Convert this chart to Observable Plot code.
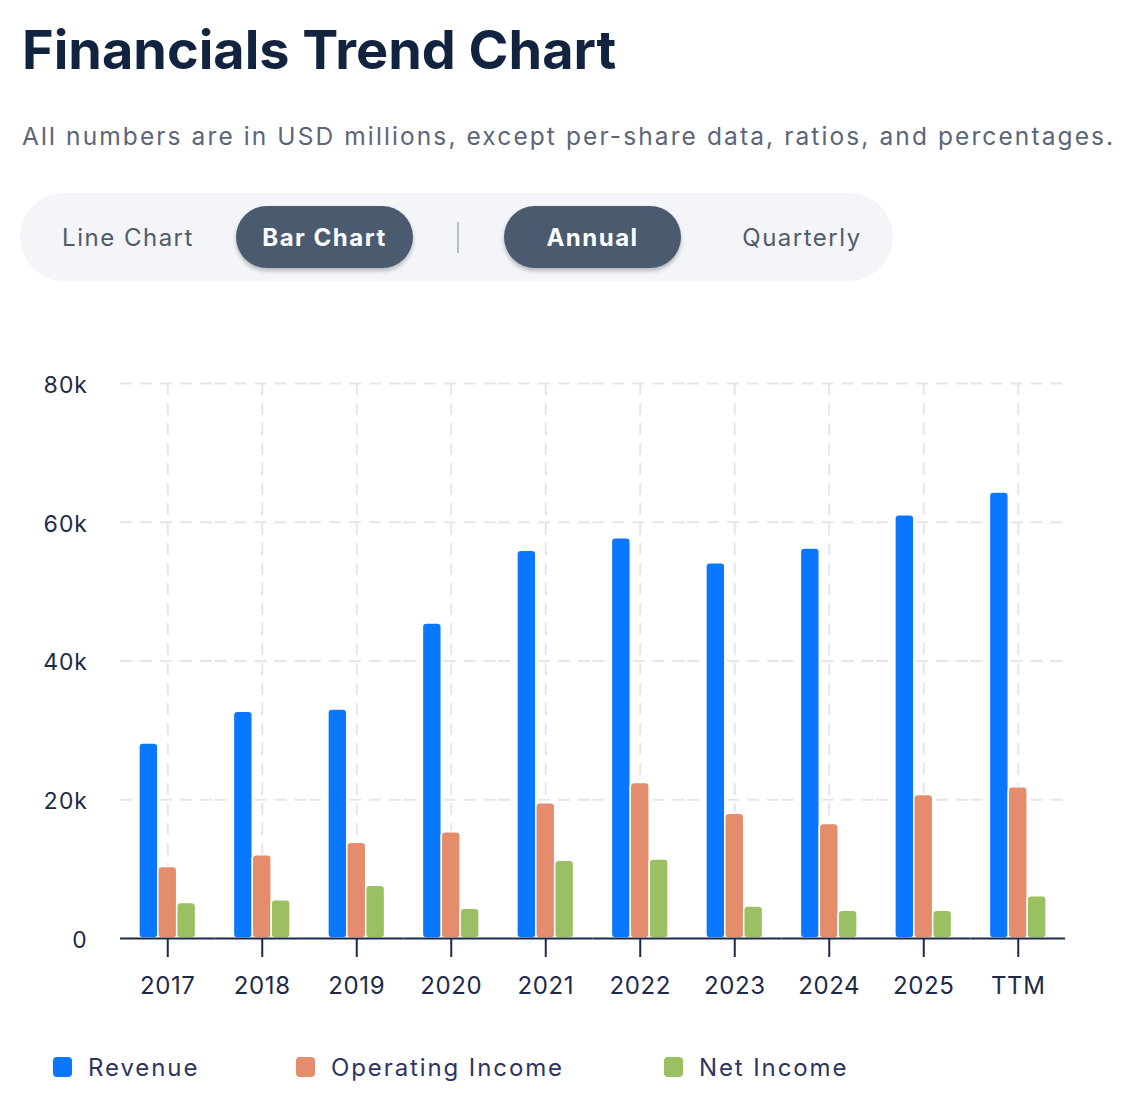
<!DOCTYPE html>
<html><head><meta charset="utf-8">
<script src="https://cdn.jsdelivr.net/npm/d3@7"></script>
<script src="https://cdn.jsdelivr.net/npm/@observablehq/plot@0.6"></script>
<style>
body{margin:0;background:#fff;font-family:Inter,"Open Sans",sans-serif;width:1125px;height:1115px;position:relative;overflow:hidden}
.abs{position:absolute}
#title{left:22px;top:23px;font-size:54px;font-weight:700;line-height:1;color:#12233f;white-space:nowrap}
#subtitle{left:22px;top:124px;font-size:24.5px;letter-spacing:2.1px;line-height:1;color:#5b6579;white-space:nowrap}
#toggles{left:20px;top:193px;width:873px;height:88px;border-radius:44px;background:#f3f5f9}
.tg{position:absolute;display:flex;align-items:center;justify-content:center;font-size:24px;letter-spacing:1.5px;height:62px;top:206px;white-space:nowrap}
.on{background:#4a5b70;color:#fff;font-weight:700;border-radius:31px;box-shadow:0 3px 4px rgba(0,0,0,0.25);width:177px}
.off{color:#4f5b6b}
#sep{left:457px;top:222px;width:2px;height:31px;background:#b5bfcc}
#chart{left:0;top:330px}
#legend{left:0;top:1051px;width:1125px;height:32px}
.li{position:absolute;top:0;height:32px;display:flex;align-items:center;font-size:24px;letter-spacing:1.9px;color:#2d3561;white-space:nowrap}
.sw{width:19px;height:20px;border-radius:4px;margin-right:16px}
</style></head><body>
<div id="title" class="abs">Financials Trend Chart</div>
<div id="subtitle" class="abs">All numbers are in USD millions, except per-share data, ratios, and percentages.</div>
<div id="toggles" class="abs"></div>
<div class="tg off" style="left:48px;width:160px">Line Chart</div>
<div class="tg on" style="left:236px">Bar Chart</div>
<div id="sep" class="abs"></div>
<div class="tg on" style="left:504px">Annual</div>
<div class="tg off" style="left:722px;width:160px">Quarterly</div>
<div id="chart" class="abs"></div>
<div id="legend" class="abs"></div>
<script>
const years = ["2017", "2018", "2019", "2020", "2021", "2022", "2023", "2024", "2025", "TTM"];
const seriesNames = ["Revenue", "Operating Income", "Net Income"];
const revenue = [28100, 32700, 33000, 45400, 55900, 57700, 54100, 56200, 61000, 64300];
const operatingIncome = [10300, 12000, 13800, 15300, 19500, 22400, 18000, 16500, 20700, 21800];
const netIncome = [5100, 5500, 7600, 4300, 11200, 11400, 4600, 4000, 4000, 6100];
const seriesColors = ["#0a77ff", "#e48d6c", "#9bbf63"];
const yTicks = [0, 20000, 40000, 60000, 80000];
const yTickLabels = ["0", "20k", "40k", "60k", "80k"];

const seriesValues = [revenue, operatingIncome, netIncome];
const data = years.flatMap((year, i) =>
  seriesNames.map((s, j) => ({year, series: s, value: seriesValues[j][i]})));

const ink = "#1c2a48";
const chart = Plot.plot({
  width: 1125,
  height: 690,
  marginLeft: 120,
  marginRight: 60,
  marginTop: 53,
  marginBottom: 82,
  style: {fontFamily: "Inter, 'Open Sans', sans-serif", color: ink, background: "transparent", letterSpacing: "0.6px"},
  fx: {domain: years, padding: 0, round: false, label: null},
  x: {domain: seriesNames, paddingInner: 0, paddingOuter: 1, round: false, axis: null},
  y: {domain: [0, 80000], label: null},
  color: {domain: seriesNames, range: seriesColors},
  marks: [
    Plot.gridY(yTicks.slice(1), {stroke: "#e6e6e6", strokeOpacity: 1, strokeWidth: 2, strokeDasharray: "12,8"}),
    Plot.ruleX(["Operating Income"], {x: d => d, stroke: "#e6e6e6", strokeWidth: 2, strokeDasharray: "12,8"}),
    Plot.barY(data, {fx: "year", x: "series", y: "value", fill: "series", stroke: "white", strokeWidth: 1.5, rx: 4, inset: 0}),
    Plot.ruleY([0], {stroke: ink, strokeWidth: 2}),
    Plot.axisY(yTicks, {tickSize: 0, tickPadding: 33, dy: 2, fontSize: 23, tickFormat: (d) => yTickLabels[yTicks.indexOf(d)], label: null}),
    Plot.axisFx({anchor: "bottom", tickSize: 19, tickPadding: 19, fontSize: 24, strokeWidth: 2, label: null})
  ]
});
document.getElementById("chart").appendChild(chart);

const legend = document.getElementById("legend");
const legendLeft = [53, 296, 664];
seriesNames.forEach((s, i) => {
  const item = document.createElement("div");
  item.className = "li";
  item.style.left = legendLeft[i] + "px";
  item.innerHTML = `<span class="sw" style="background:${seriesColors[i]}"></span>${s}`;
  legend.appendChild(item);
});
</script>
</body></html>
